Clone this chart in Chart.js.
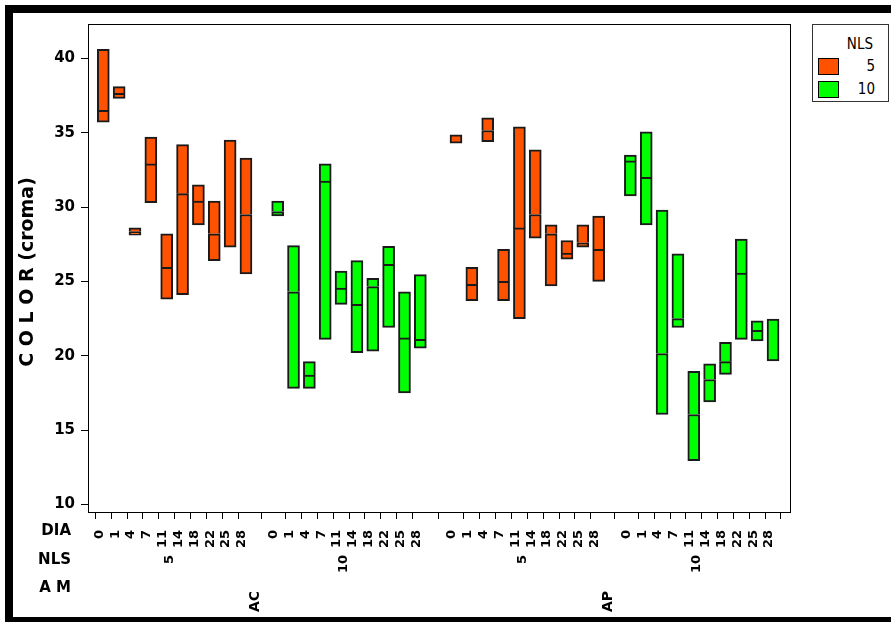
<!DOCTYPE html>
<html>
<head>
<meta charset="utf-8">
<script src="https://cdn.jsdelivr.net/npm/chart.js@4.4.1/dist/chart.umd.min.js"></script>
<style>
  html, body { margin: 0; padding: 0; background: #fff; }
  #wrap { position: relative; width: 891px; height: 622px; overflow: hidden; }
  #wrap canvas { position: absolute; left: 0; top: 0; }
  #legend {
    position: absolute; left: 812px; top: 24px; width: 77px; height: 78px;
    box-sizing: border-box; border: 1px solid #333; background: #fff;
    font-family: "DejaVu Sans Condensed", "Liberation Sans Narrow", "DejaVu Sans", sans-serif;
    font-size: 15px; color: #000;
  }
  #legend .t { position: absolute; right: 15px; line-height: 18px; }
  #legend .sw { position: absolute; left: 5px; width: 21px; height: 17px; box-sizing: border-box; border: 1px solid #000; }
</style>
</head>
<body>
<div id="wrap">
  <canvas id="c" width="891" height="622"></canvas>
  <div id="legend">
    <div class="t" style="top:10px;">NLS</div>
    <div class="sw" style="top:33px;background:#ff5200;"></div>
    <div class="t" style="top:32px;right:13px;">5</div>
    <div class="sw" style="top:56px;background:#00ff00;"></div>
    <div class="t" style="top:55px;right:13px;">10</div>
  </div>
</div>
<script>
// Factor levels
const diaLabels = ['0', '1', '4', '7', '11', '14', '18', '22', '25', '28'];
const nlsLevels = ['5', '10'];
const amLevels = ['AC', 'AP'];
const yTickValues = [10, 15, 20, 25, 30, 35, 40];

// Interval ends and centre line per DIA, AC first then AP
const nls5Low    = [35.7, 37.3, 28.1, 30.3, 23.8, 24.1, 28.8, 26.4, 27.3, 25.5,
                    34.3, 23.7, 34.4, 23.7, 22.5, 27.9, 24.7, 26.5, 27.3, 25.0];
const nls5Center = [36.5, 37.65, 28.35, 32.9, 25.95, 30.9, 30.4, 28.2, 34.5, 29.5,
                    34.85, 24.8, 35.15, 25.0, 28.6, 29.5, 28.2, 26.9, 27.6, 27.15];
const nls5High   = [40.6, 38.1, 28.6, 34.7, 28.2, 34.2, 31.5, 30.4, 34.5, 33.3,
                    34.85, 25.95, 36.0, 27.15, 35.4, 33.85, 28.8, 27.75, 28.8, 29.4];

const nls10Low    = [29.4, 17.8, 17.8, 21.1, 23.45, 20.2, 20.3, 21.9, 17.5, 20.5,
                     30.75, 28.8, 16.05, 21.9, 12.95, 16.9, 18.75, 21.1, 21.0, 19.65];
const nls10Center = [29.7, 24.3, 18.7, 31.75, 24.55, 23.45, 24.65, 26.15, 21.2, 21.1,
                     33.1, 32.0, 20.15, 22.5, 16.05, 18.4, 19.6, 25.55, 21.7, 22.47];
const nls10High   = [30.4, 27.4, 19.6, 32.9, 25.7, 26.4, 25.2, 27.35, 24.3, 25.45,
                     33.5, 35.05, 29.8, 26.85, 18.95, 19.45, 20.9, 27.85, 22.35, 22.47];

// Slot layout on the x axis: one unit per DIA level, gaps between groups
const NLS_STRIDE = 11;
const AM_STRIDE = 22.25;
const slotOf = (a, n, d) => a * AM_STRIDE + n * NLS_STRIDE + d;

const COLORS = ['#ff5200', '#00ff00'];
const EDGE = '#1a1a1a';
const BOLD = '"DejaVu Sans", Verdana, sans-serif';

function seriesPoints(low, center, high, n) {
  const lower = [], upper = [];
  for (let a = 0; a < amLevels.length; a++) {
    for (let d = 0; d < diaLabels.length; d++) {
      const i = a * diaLabels.length + d;
      const x = slotOf(a, n, d);
      lower.push({ x, y: [low[i], center[i]] });
      upper.push({ x, y: [center[i], high[i]] });
    }
  }
  return { lower, upper };
}

const datasets = [];
[[nls5Low, nls5Center, nls5High], [nls10Low, nls10Center, nls10High]].forEach((s, n) => {
  const pts = seriesPoints(s[0], s[1], s[2], n);
  const common = {
    backgroundColor: COLORS[n], borderColor: EDGE, borderWidth: 2,
    barThickness: 12, grouped: false
  };
  datasets.push(Object.assign({ label: nlsLevels[n], data: pts.lower, borderSkipped: false }, common));
  datasets.push(Object.assign({ label: nlsLevels[n], data: pts.upper, borderSkipped: 'start' }, common));
});

const xTickValues = [];
for (let a = 0; a < amLevels.length; a++)
  for (let n = 0; n < nlsLevels.length; n++)
    for (let d = 0; d < diaLabels.length; d++) xTickValues.push(slotOf(a, n, d));

// Frame, plot box and the nested NLS / AM label rows
const decorations = {
  id: 'decorations',
  afterDraw(chart) {
    const { ctx, chartArea: ca } = chart;
    const xs = chart.scales.x;
    ctx.save();
    ctx.fillStyle = '#000';
    ctx.fillRect(5, 5, 8, 617);
    ctx.fillRect(5, 5, 886, 8);
    ctx.fillRect(5, 617, 886, 5);

    ctx.strokeStyle = '#000';
    ctx.lineWidth = 1;
    ctx.strokeRect(Math.round(ca.left) + 0.5, Math.round(ca.top) + 0.5,
                   Math.round(ca.right - ca.left), Math.round(ca.bottom - ca.top));

    ctx.font = 'bold 15px ' + BOLD;
    ctx.textAlign = 'right';
    ctx.textBaseline = 'middle';
    ctx.fillText('DIA', 71, 531);
    ctx.fillText('NLS', 71, 560);
    ctx.fillText('A M', 71, 588);

    const rotated = (txt, px, top, size) => {
      ctx.save();
      ctx.font = 'bold ' + size + 'px ' + BOLD;
      ctx.translate(px, top);
      ctx.rotate(-Math.PI / 2);
      ctx.textAlign = 'right';
      ctx.textBaseline = 'middle';
      ctx.fillText(txt, 0, 0);
      ctx.restore();
    };
    for (let a = 0; a < amLevels.length; a++) {
      for (let n = 0; n < nlsLevels.length; n++) {
        const mid = slotOf(a, n, (diaLabels.length - 1) / 2);
        rotated(nlsLevels[n], xs.getPixelForValue(mid) - 5, 555, 13);
      }
      const amMid = (slotOf(a, 0, 0) + slotOf(a, 1, diaLabels.length - 1)) / 2;
      rotated(amLevels[a], xs.getPixelForValue(amMid) - 6, 591, 14);
    }

    ctx.save();
    ctx.font = 'bold 19px ' + BOLD;
    ctx.translate(28, 272);
    ctx.rotate(-Math.PI / 2);
    ctx.textAlign = 'center';
    ctx.textBaseline = 'middle';
    ctx.fillText('C O L O R (croma)', 0, 0);
    ctx.restore();
    ctx.restore();
  }
};

new Chart(document.getElementById('c'), {
  type: 'bar',
  data: { datasets },
  options: {
    responsive: false,
    animation: false,
    layout: { padding: { top: 24, right: 101, left: 0, bottom: 0 } },
    plugins: { legend: { display: false }, tooltip: { enabled: false } },
    scales: {
      x: {
        type: 'linear',
        min: -0.965,
        max: 43.32,
        offset: false,
        afterBuildTicks(scale) { scale.ticks = xTickValues.map(v => ({ value: v })); },
        afterFit(scale) { scale.height = 110; },
        grid: { drawOnChartArea: false, color: '#000', tickLength: 7 },
        border: { display: true, color: '#000', width: 1 },
        ticks: {
          autoSkip: false, minRotation: 90, maxRotation: 90,
          padding: 11, labelOffset: -4, color: '#000',
          font: { family: BOLD, weight: 'bold', size: 13 },
          callback: (v, i) => diaLabels[i % diaLabels.length]
        }
      },
      y: {
        min: 9.49,
        max: 42.31,
        afterBuildTicks(scale) { scale.ticks = yTickValues.map(v => ({ value: v })); },
        afterFit(scale) { scale.width = 88; },
        grid: { drawOnChartArea: false, color: '#000', tickLength: 7 },
        border: { display: true, color: '#000', width: 1 },
        ticks: { padding: 6, color: '#000', font: { family: BOLD, weight: 'bold', size: 15 } }
      }
    }
  },
  plugins: [decorations]
});
</script>
</body>
</html>
